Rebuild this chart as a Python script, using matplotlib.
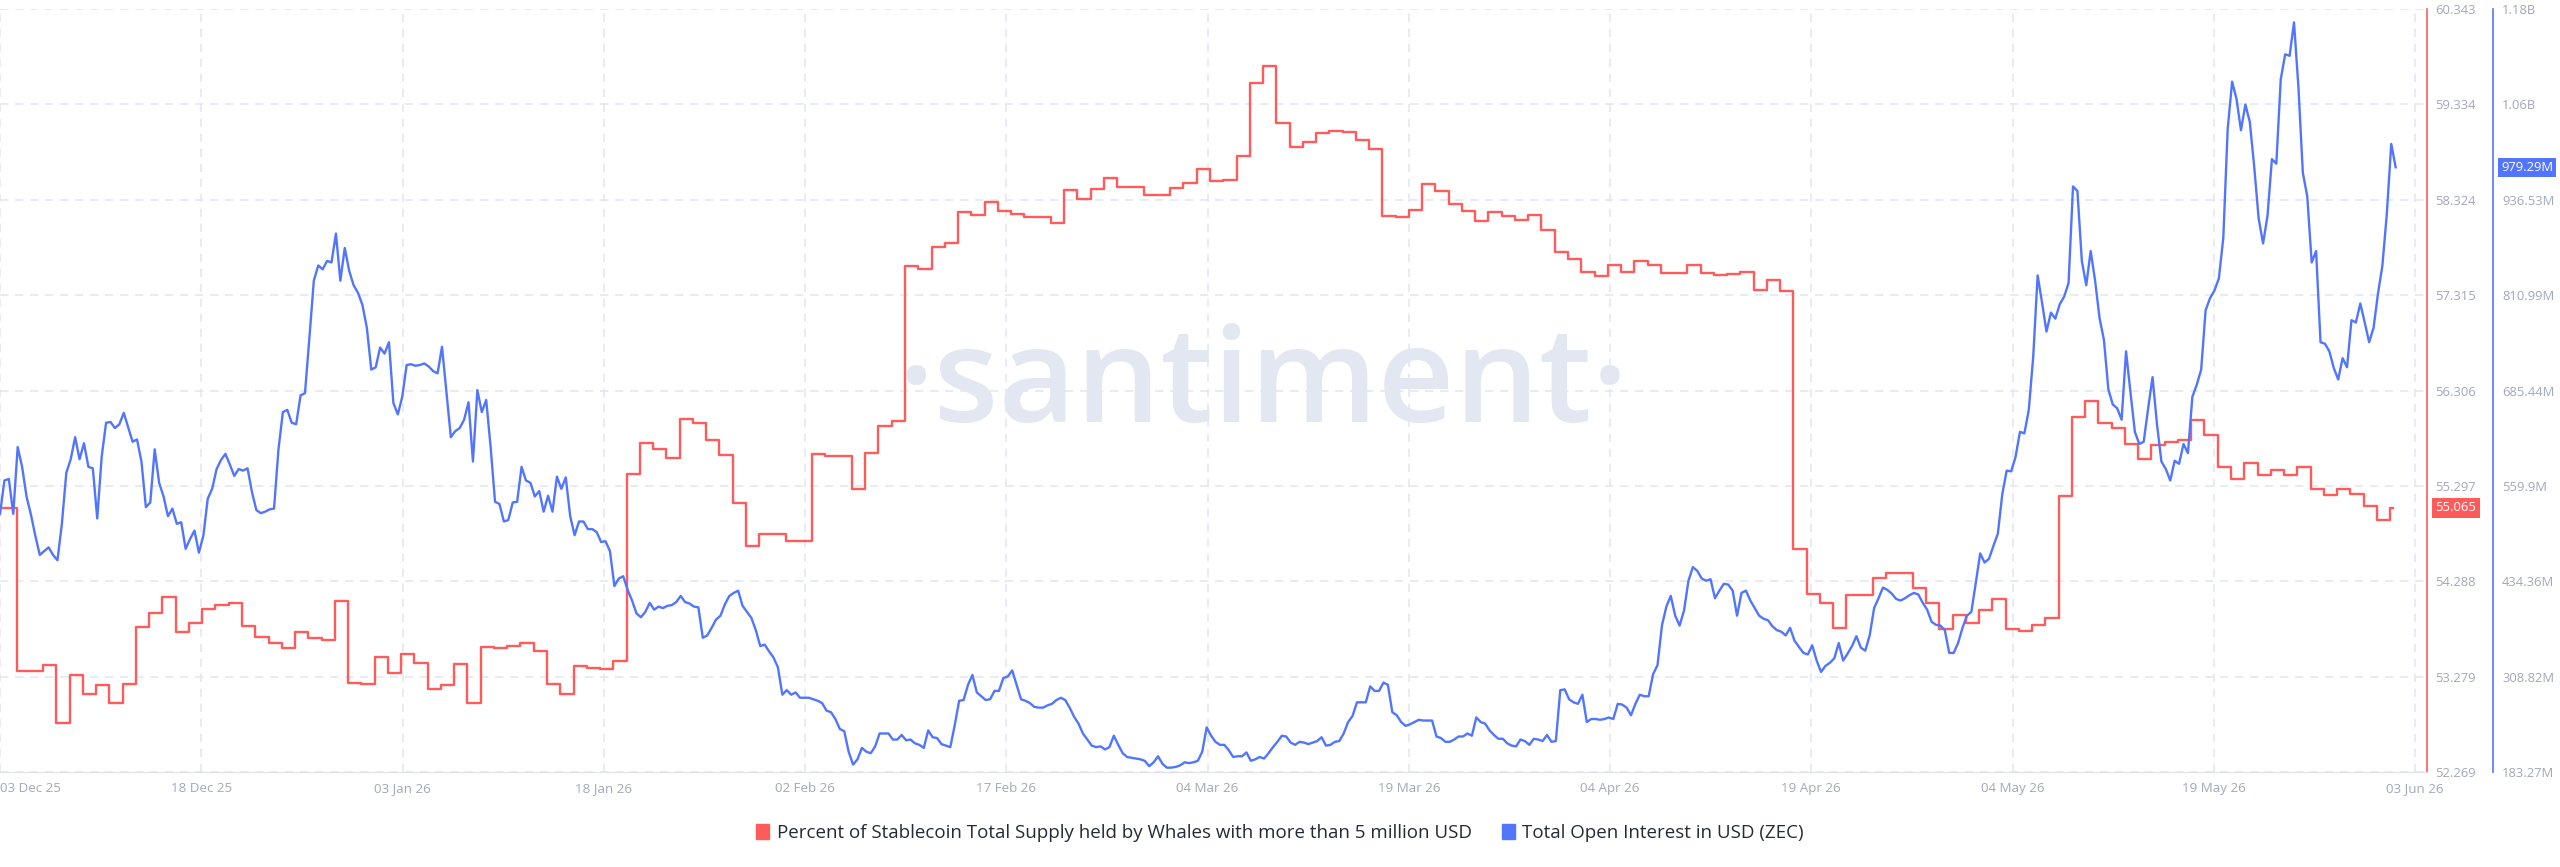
import numpy as np
import pandas as pd
import matplotlib
matplotlib.use('Agg')
import matplotlib.pyplot as plt
from matplotlib.patches import Patch
from matplotlib.transforms import blended_transform_factory

plt.rcParams['font.family'] = ['Open Sans', 'DejaVu Sans']

RED = '#ff5b5b'
BLUE = '#5275ff'
GRID = '#e4e7f1'
LABEL = '#a3a7bb'

# ---- data ----
red_label = 'Percent of Stablecoin Total Supply held by Whales with more than 5 million USD'
blue_label = 'Total Open Interest in USD (ZEC)'

# daily whale share of stablecoin supply (%)
red_values = [
    55.06, 55.06, 53.34, 53.34, 53.40, 52.79, 53.30, 53.10, 53.19, 53.00, 53.20,
    53.80, 53.95, 54.12, 53.75, 53.85, 53.99, 54.04, 54.06, 53.81, 53.70,
    53.63, 53.58, 53.75, 53.69, 53.67, 54.08, 53.21, 53.20, 53.49, 53.32,
    53.52, 53.42, 53.15, 53.19, 53.41, 53.00, 53.59, 53.58, 53.60, 53.63,
    53.55, 53.20, 53.09, 53.39, 53.37, 53.36, 53.44, 55.42, 55.75, 55.69,
    55.59, 56.01, 55.96, 55.78, 55.62, 55.12, 54.66, 54.79, 54.79, 54.71,
    54.71, 55.63, 55.61, 55.61, 55.26, 55.65, 55.93, 55.98, 57.62, 57.59,
    57.83, 57.87, 58.19, 58.16, 58.30, 58.21, 58.17, 58.14, 58.14, 58.08,
    58.43, 58.33, 58.44, 58.55, 58.46, 58.46, 58.37, 58.38, 58.45, 58.50,
    58.65, 58.52, 58.53, 58.79, 59.56, 59.74, 59.14, 58.88, 58.94, 59.03,
    59.05, 59.04, 58.96, 58.86, 58.15, 58.14, 58.22, 58.49, 58.42, 58.28,
    58.21, 58.10, 58.19, 58.15, 58.11, 58.16, 58.01, 57.77, 57.70, 57.56,
    57.52, 57.63, 57.56, 57.68, 57.63, 57.55, 57.55, 57.63, 57.55, 57.53,
    57.54, 57.56, 57.37, 57.48, 57.36, 54.63, 54.15, 54.06, 53.79, 54.14,
    54.14, 54.32, 54.38, 54.37, 54.22, 54.06, 53.78, 53.93, 53.85, 53.98,
    54.10, 53.78, 53.76, 53.83, 53.90, 55.19, 56.03, 56.20, 55.96, 55.91,
    55.74, 55.58, 55.73, 55.76, 55.78, 55.99, 55.84, 55.50, 55.37, 55.54,
    55.41, 55.46, 55.41, 55.50, 55.26, 55.20, 55.26, 55.21, 55.08, 54.94,
    55.065,
]
red_start = '2025-12-03'
red_end = '2026-06-02 06:00'

# open interest, millions USD, every 8 hours
blue_values = [
    523, 567, 569, 523, 611, 585, 546, 522, 494, 469,
    474, 479, 469, 462, 510, 577, 595, 624, 595, 616,
    585, 583, 517, 598, 643, 644, 636, 641, 656, 637,
    618, 621, 592, 532, 538, 608, 564, 546, 520, 530,
    510, 512, 477, 490, 501, 472, 494, 543, 556, 582,
    594, 602, 588, 573, 582, 580, 583, 552, 528, 524,
    526, 529, 530, 608, 657, 660, 643, 641, 679, 682,
    755, 830, 850, 845, 856, 854, 892, 830, 873, 843,
    824, 814, 798, 768, 713, 716, 742, 734, 749, 669,
    654, 677, 719, 720, 718, 719, 721, 717, 711, 708,
    743, 683, 624, 632, 636, 647, 670, 592, 686, 657,
    673, 611, 539, 536, 513, 515, 538, 539, 585, 567,
    564, 546, 553, 526, 547, 526, 572, 556, 571, 520,
    495, 513, 513, 503, 503, 499, 486, 487, 474, 428,
    438, 441, 423, 409, 392, 387, 394, 406, 397, 401,
    399, 402, 403, 407, 415, 407, 405, 401, 400, 360,
    363, 373, 384, 389, 404, 415, 419, 422, 402, 394,
    386, 370, 349, 351, 342, 334, 321, 285, 291, 285,
    288, 281, 281, 281, 279, 277, 274, 264, 262, 253,
    240, 237, 210, 193, 200, 215, 210, 208, 217, 234,
    234, 234, 226, 226, 232, 225, 226, 221, 219, 215,
    238, 229, 228, 220, 218, 216, 245, 277, 278, 298,
    311, 288, 283, 278, 279, 290, 290, 307, 309, 317,
    298, 279, 277, 274, 269, 268, 268, 271, 273, 278,
    281, 278, 268, 256, 247, 234, 226, 218, 216, 217,
    213, 216, 231, 219, 208, 203, 202, 201, 200, 198,
    191, 196, 204, 194, 189, 189, 190, 192, 196, 195,
    196, 198, 210, 242, 231, 223, 219, 219, 212, 203,
    204, 204, 209, 198, 200, 203, 201, 208, 216, 223,
    231, 230, 222, 219, 223, 222, 220, 222, 224, 229,
    218, 219, 223, 224, 234, 249, 257, 275, 275, 275,
    296, 290, 290, 301, 298, 262, 258, 249, 244, 246,
    249, 252, 251, 251, 251, 230, 228, 223, 223, 226,
    230, 230, 234, 231, 255, 249, 247, 238, 232, 227,
    227, 221, 218, 217, 226, 224, 219, 227, 226, 224,
    232, 223, 224, 291, 292, 279, 275, 273, 285, 249,
    253, 253, 252, 253, 255, 253, 273, 272, 268, 258,
    273, 285, 283, 283, 312, 324, 376, 401, 415, 389,
    376, 396, 435, 453, 448, 438, 435, 437, 412, 422,
    431, 430, 422, 389, 419, 422, 409, 399, 389, 385,
    383, 375, 370, 368, 363, 373, 356, 348, 340, 338,
    350, 330, 315, 323, 327, 333, 353, 330, 339, 349,
    362, 347, 343, 363, 399, 412, 426, 423, 418, 411,
    409, 412, 416, 419, 417, 406, 397, 381, 377, 376,
    370, 340, 340, 353, 373, 389, 394, 432, 471, 459,
    464, 481, 497, 549, 580, 579, 598, 631, 629, 660,
    730, 837, 801, 763, 788, 780, 799, 809, 827, 954,
    948, 856, 824, 869, 830, 781, 752, 687, 667, 662,
    647, 737, 683, 631, 615, 618, 662, 703, 641, 592,
    582, 567, 593, 589, 615, 603, 677, 693, 713, 791,
    807, 817, 833, 886, 1030, 1092, 1069, 1028, 1062, 1039,
    980, 912, 879, 915, 990, 984, 1095, 1128, 1126, 1170,
    1085, 972, 941, 854, 869, 749, 747, 737, 715, 700,
    728, 716, 778, 775, 800, 775, 749, 768, 813, 850,
    918, 1010, 979.29,
]
blue_start = '2025-12-03 18:00'

x_labels = ['03 Dec 25', '18 Dec 25', '03 Jan 26', '18 Jan 26', '02 Feb 26',
            '17 Feb 26', '04 Mar 26', '19 Mar 26', '04 Apr 26', '19 Apr 26',
            '04 May 26', '19 May 26', '03 Jun 26']
red_range = (52.2694, 60.3434)
blue_range = (183.272, 1187.62)
red_tick_labels = ['52.269', '53.279', '54.288', '55.297', '56.306',
                   '57.315', '58.324', '59.334', '60.343']
blue_tick_labels = ['183.27M', '308.82M', '434.36M', '559.9M', '685.44M',
                    '810.99M', '936.53M', '1.06B', '1.18B']

# ---- series ----
red_dates = list(pd.date_range(red_start, periods=len(red_values), freq='D'))
red_dates.append(pd.Timestamp(red_end))
red_y = red_values + [red_values[-1]]
blue_dates = pd.date_range(blue_start, periods=len(blue_values), freq='8h')

t0 = pd.Timestamp(blue_start)
tick_pos = [t0 + pd.Timedelta(days=15.1775 * k) for k in range(len(x_labels))]

fig = plt.figure(figsize=(25.6, 8.67), dpi=100)
ax = fig.add_axes([0, 1 - 772 / 867, 2427 / 2560, 763 / 867])
ax2 = ax.twinx()

ax.plot(red_dates, red_y, drawstyle='steps-post', color=RED, lw=1.7, zorder=3)
ax2.plot(blue_dates, blue_values, color=BLUE, lw=1.7, zorder=3)

ax.set_xlim(t0, t0 + pd.Timedelta(days=183.03))
ax.set_ylim(*red_range)
ax2.set_ylim(*blue_range)

ax.set_xticks(tick_pos)
ax.set_xticklabels(x_labels)
ax.get_xticklabels()[0].set_horizontalalignment('left')

ax.set_yticks(np.linspace(red_range[0], red_range[1], 9))
ax.set_yticklabels(red_tick_labels)
ax2.set_yticks(np.linspace(blue_range[0], blue_range[1], 9))
ax2.set_yticklabels(blue_tick_labels)

ax.yaxis.tick_right()
ax.tick_params(axis='y', length=0, pad=6, labelsize=9.4, labelcolor=LABEL)
ax.tick_params(axis='x', length=0, pad=7, labelsize=9.6, labelcolor=LABEL)
ax2.tick_params(axis='y', length=0, pad=6.5, labelsize=9.4, labelcolor=LABEL)

ax.grid(True, color=GRID, lw=1.2, linestyle=(0, (5, 4)))
ax.set_axisbelow(True)

for s in ['top', 'left']:
    ax.spines[s].set_visible(False)
    ax2.spines[s].set_visible(False)
ax2.spines['bottom'].set_visible(False)
ax.spines['bottom'].set_color('#dfe2ee')
ax.spines['right'].set_color(RED)
ax.spines['right'].set_linewidth(1.2)
ax2.spines['right'].set_position(('axes', 1.0272))
ax2.spines['right'].set_color(BLUE)
ax2.spines['right'].set_linewidth(1.2)

# watermark
ax.text(0.5206, 0.4587, '\u00b7santiment\u00b7', transform=ax.transAxes,
        ha='center', va='baseline', fontsize=96, fontweight='semibold',
        color='#e3e7f2', zorder=0)

# current value badges
tr = blended_transform_factory(ax.transAxes, ax.transData)
ax.text(1.0035, red_values[-1], '%.3f' % red_values[-1], transform=tr,
        ha='left', va='center', fontsize=9.4, color='white', clip_on=False,
        bbox=dict(boxstyle='square,pad=0.25', fc=RED, ec='none'), zorder=5)
tr2 = blended_transform_factory(ax2.transAxes, ax2.transData)
ax2.text(1.0305, blue_values[-1], '%.2fM' % blue_values[-1], transform=tr2,
         ha='left', va='center', fontsize=9.4, color='white', clip_on=False,
         bbox=dict(boxstyle='square,pad=0.25', fc=BLUE, ec='none'), zorder=5)

fig.legend(handles=[Patch(color=RED), Patch(color=BLUE)],
           labels=[red_label, blue_label], loc='center',
           bbox_to_anchor=(0.5, 1 - 833 / 867), ncol=2, frameon=False,
           handlelength=0.7, handleheight=0.9, handletextpad=0.4,
           columnspacing=1.6, fontsize=13.5, labelcolor='#262a38')

fig.savefig('out.png', dpi=100)
